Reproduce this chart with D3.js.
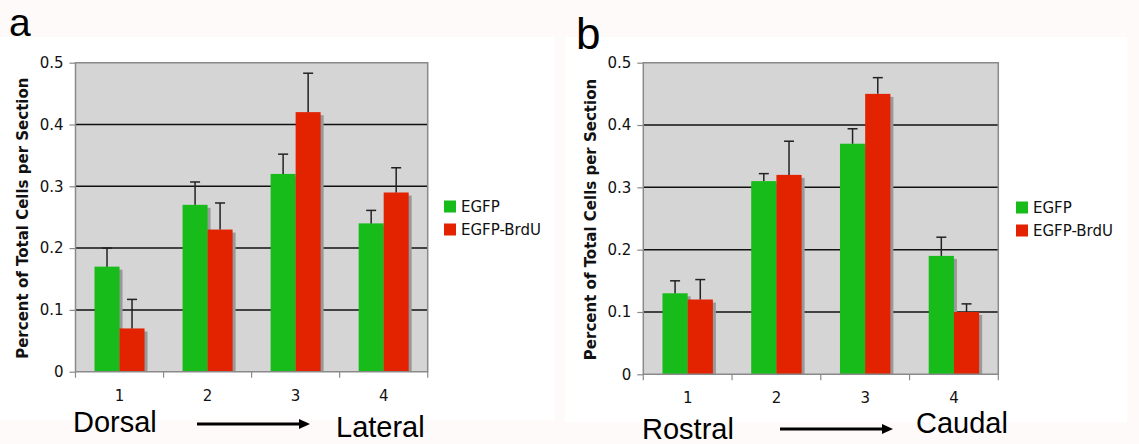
<!DOCTYPE html>
<html>
<head>
<meta charset="utf-8">
<script src="https://cdn.jsdelivr.net/npm/d3@7"></script>
<style>
  body { margin: 0; background: #fefaf9; }
  svg { display: block; }
</style>
</head>
<body>
<svg id="chart" width="1139" height="444"></svg>
<script>
// categories + series
var categories = ['1', '2', '3', '4'];
var seriesNames = ['EGFP', 'EGFP-BrdU'];
var seriesColors = ['#17bc1a', '#e32300'];
var yTicks = [0, 0.1, 0.2, 0.3, 0.4, 0.5];

// panel a (dorsal -> lateral)
var egfpA = [0.17, 0.27, 0.32, 0.24];
var egfpErrA = [0.03, 0.037, 0.032, 0.021];
var brduA = [0.07, 0.23, 0.42, 0.29];
var brduErrA = [0.047, 0.043, 0.063, 0.04];

// panel b (rostral -> caudal)
var egfpB = [0.13, 0.31, 0.37, 0.19];
var egfpErrB = [0.02, 0.012, 0.024, 0.03];
var brduB = [0.12, 0.32, 0.45, 0.10];
var brduErrB = [0.032, 0.054, 0.026, 0.013];

var svg = d3.select('#chart');

function drawPanel(cfg) {
  var g = svg.append('g');

  // white card behind the chart
  g.append('rect')
    .attr('x', cfg.card[0]).attr('y', cfg.card[1])
    .attr('width', cfg.card[2]).attr('height', cfg.card[3])
    .attr('fill', '#ffffff');

  var x = d3.scaleBand().domain(categories).range([cfg.x0, cfg.x1]);
  var xs = d3.scaleBand().domain(seriesNames).range([0, x.bandwidth()])
    .paddingInner(0).paddingOuter(0.76);
  var y = d3.scaleLinear().domain([0, 0.5]).range([cfg.y1, cfg.y0]);

  // plot background
  g.append('rect')
    .attr('x', cfg.x0).attr('y', cfg.y0)
    .attr('width', cfg.x1 - cfg.x0).attr('height', cfg.y1 - cfg.y0)
    .attr('fill', '#d5d5d5');

  // gridlines
  g.selectAll('.grid')
    .data(yTicks.filter(d => d > 0 && d < 0.5))
    .enter().append('line')
    .attr('x1', cfg.x0).attr('x2', cfg.x1)
    .attr('y1', d => y(d)).attr('y2', d => y(d))
    .attr('stroke', '#111').attr('stroke-width', 1.5);

  var rows = categories.map(function (c, i) {
    return [
      { cat: c, s: seriesNames[0], v: cfg.egfp[i], e: cfg.egfpErr[i], color: seriesColors[0] },
      { cat: c, s: seriesNames[1], v: cfg.brdu[i], e: cfg.brduErr[i], color: seriesColors[1] }
    ];
  }).flat();

  // drop shadows
  g.selectAll('.shadow')
    .data(rows)
    .enter().append('rect')
    .attr('x', d => x(d.cat) + xs(d.s) + 3)
    .attr('y', d => y(d.v) + 3)
    .attr('width', xs.bandwidth())
    .attr('height', d => y(0) - y(d.v) - 3)
    .attr('fill', '#999999');

  // bars
  g.selectAll('.bar')
    .data(rows)
    .enter().append('rect')
    .attr('x', d => x(d.cat) + xs(d.s))
    .attr('y', d => y(d.v))
    .attr('width', xs.bandwidth())
    .attr('height', d => y(0) - y(d.v))
    .attr('fill', d => d.color);

  // error bars (upper only)
  var eb = g.selectAll('.err').data(rows).enter().append('g');
  eb.append('line')
    .attr('x1', d => x(d.cat) + xs(d.s) + xs.bandwidth() / 2)
    .attr('x2', d => x(d.cat) + xs(d.s) + xs.bandwidth() / 2)
    .attr('y1', d => y(d.v))
    .attr('y2', d => y(d.v + d.e))
    .attr('stroke', '#222').attr('stroke-width', 1.5);
  eb.append('line')
    .attr('x1', d => x(d.cat) + xs(d.s) + xs.bandwidth() / 2 - 5)
    .attr('x2', d => x(d.cat) + xs(d.s) + xs.bandwidth() / 2 + 5)
    .attr('y1', d => y(d.v + d.e))
    .attr('y2', d => y(d.v + d.e))
    .attr('stroke', '#222').attr('stroke-width', 1.5);

  // plot frame
  g.append('path')
    .attr('d', 'M' + cfg.x0 + ',' + cfg.y1 + 'V' + cfg.y0 + 'H' + cfg.x1 + 'V' + cfg.y1 + 'Z')
    .attr('fill', 'none').attr('stroke', '#8a8a8a').attr('stroke-width', 1.5);

  // y axis
  var yAxis = d3.axisLeft(y).tickValues(yTicks)
    .tickFormat(d => d === 0 ? '0' : d3.format('.1f')(d))
    .tickSize(6).tickPadding(6);
  var ya = g.append('g').attr('transform', 'translate(' + cfg.x0 + ',0)').call(yAxis);
  ya.select('.domain').remove();
  ya.selectAll('line').attr('stroke', '#8a8a8a').attr('stroke-width', 1.2);
  ya.selectAll('text')
    .attr('font-family', 'DejaVu Sans').attr('font-size', 15).attr('fill', '#111');

  // x axis: ticks between categories
  var edges = categories.map(c => x(c)).concat([cfg.x1]);
  g.selectAll('.xtick').data(edges).enter().append('line')
    .attr('x1', d => d).attr('x2', d => d)
    .attr('y1', cfg.y1).attr('y2', cfg.y1 + 6)
    .attr('stroke', '#8a8a8a').attr('stroke-width', 1.2);
  g.selectAll('.xlab').data(categories).enter().append('text')
    .attr('x', d => x(d) + x.bandwidth() / 2)
    .attr('y', cfg.y1 + 29)
    .attr('text-anchor', 'middle')
    .attr('font-family', 'DejaVu Sans').attr('font-size', 15).attr('fill', '#111')
    .text(d => d);

  // y title
  g.append('text')
    .attr('transform', 'translate(' + cfg.titleX + ',' + ((cfg.y0 + cfg.y1) / 2 + 1) + ') rotate(-90)')
    .attr('text-anchor', 'middle')
    .attr('font-family', 'DejaVu Sans').attr('font-weight', 'bold')
    .attr('font-size', 15).attr('fill', '#111')
    .text('Percent of Total Cells per Section');

  // legend
  var lg = g.append('g').attr('transform', 'translate(' + cfg.legend[0] + ',' + cfg.legend[1] + ')');
  seriesNames.forEach(function (s, i) {
    lg.append('rect')
      .attr('x', 0).attr('y', i * 23)
      .attr('width', 12).attr('height', 12)
      .attr('fill', seriesColors[i]);
    lg.append('text')
      .attr('x', 17).attr('y', i * 23 + 11.5)
      .attr('font-family', 'DejaVu Sans').attr('font-size', 15).attr('fill', '#111')
      .text(s);
  });

  // panel letter
  g.append('text')
    .attr('x', cfg.letter[0]).attr('y', cfg.letter[1])
    .attr('font-family', 'Liberation Sans').attr('font-size', cfg.letter[2])
    .attr('fill', '#000')
    .text(cfg.name);

  // direction labels + arrow
  g.append('text')
    .attr('x', cfg.from[0]).attr('y', cfg.from[1])
    .attr('font-family', 'Liberation Sans').attr('font-size', 29).attr('fill', '#000')
    .text(cfg.from[2]);
  g.append('text')
    .attr('x', cfg.to[0]).attr('y', cfg.to[1])
    .attr('font-family', 'Liberation Sans').attr('font-size', 29).attr('fill', '#000')
    .text(cfg.to[2]);
  var ax0 = cfg.arrow[0], ax1 = cfg.arrow[1], ay = cfg.arrow[2];
  g.append('line')
    .attr('x1', ax0).attr('x2', ax1 - 9).attr('y1', ay).attr('y2', ay)
    .attr('stroke', '#000').attr('stroke-width', 3);
  g.append('path')
    .attr('d', 'M' + (ax1 - 11) + ',' + (ay - 5) + 'L' + ax1 + ',' + ay + 'L' + (ax1 - 11) + ',' + (ay + 5) + 'Z')
    .attr('fill', '#000');
}

drawPanel({
  name: 'a',
  card: [0, 37, 555, 383],
  x0: 75.5, x1: 427.7, y0: 62.7, y1: 371.7,
  egfp: egfpA, egfpErr: egfpErrA, brdu: brduA, brduErr: brduErrA,
  titleX: 28,
  legend: [444, 200.5],
  letter: [9, 35.5, 39],
  from: [73, 432, 'Dorsal'],
  to: [336, 437, 'Lateral'],
  arrow: [197, 310, 424]
});

drawPanel({
  name: 'b',
  card: [565, 37, 562, 385],
  x0: 643.3, x1: 998.3, y0: 62.7, y1: 374.3,
  egfp: egfpB, egfpErr: egfpErrB, brdu: brduB, brduErr: brduErrB,
  titleX: 596,
  legend: [1016, 201.5],
  letter: [576, 49, 44],
  from: [642, 439, 'Rostral'],
  to: [916, 433, 'Caudal'],
  arrow: [780, 893, 429]
});
</script>
</body>
</html>
